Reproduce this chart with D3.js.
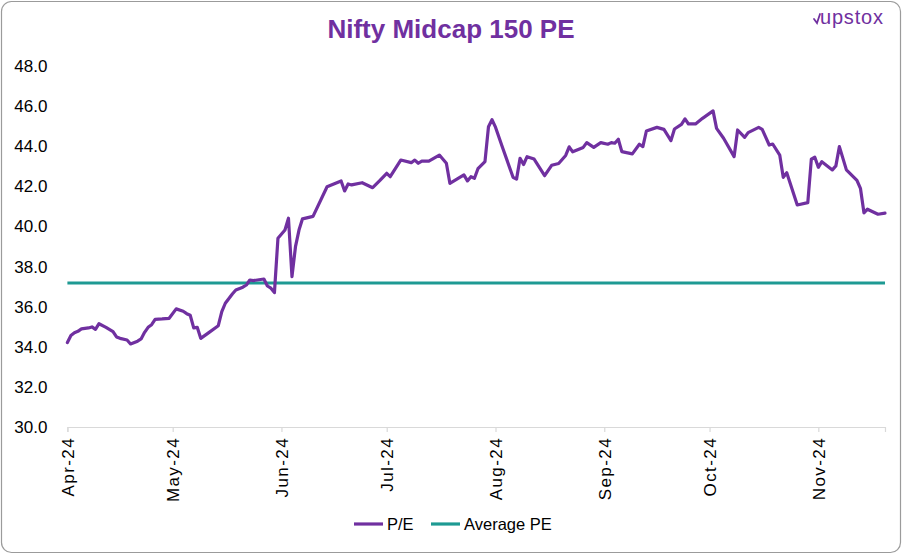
<!DOCTYPE html>
<html>
<head>
<meta charset="utf-8">
<script src="https://cdn.jsdelivr.net/npm/d3@7/dist/d3.min.js"></script>
<style>
  html, body { margin: 0; padding: 0; background: #fff; }
  svg { display: block; font-family: "Liberation Sans", Arial, sans-serif; }
</style>
</head>
<body>
<svg id="chart" width="903" height="555"></svg>
<script>
// ---------------- DATA ----------------
const chartTitle = "Nifty Midcap 150 PE";
const seriesNames = ["P/E", "Average PE"];
const dates = [
  "2024-04-01","2024-04-02","2024-04-03","2024-04-04","2024-04-05","2024-04-07","2024-04-08","2024-04-09","2024-04-10","2024-04-12",
  "2024-04-14","2024-04-15","2024-04-16","2024-04-18","2024-04-19","2024-04-21","2024-04-22","2024-04-23","2024-04-24","2024-04-25",
  "2024-04-26","2024-04-28","2024-04-30","2024-05-02","2024-05-04","2024-05-05","2024-05-06","2024-05-07","2024-05-08","2024-05-09",
  "2024-05-11","2024-05-14","2024-05-15","2024-05-16","2024-05-18","2024-05-19","2024-05-21","2024-05-22","2024-05-23","2024-05-24",
  "2024-05-27","2024-05-28","2024-05-29","2024-05-30","2024-05-31","2024-06-02","2024-06-03","2024-06-04","2024-06-05","2024-06-06",
  "2024-06-07","2024-06-10","2024-06-14","2024-06-18","2024-06-19","2024-06-20","2024-06-21","2024-06-24","2024-06-27","2024-06-29",
  "2024-07-01","2024-07-02","2024-07-05","2024-07-08","2024-07-09","2024-07-10","2024-07-11","2024-07-13","2024-07-16","2024-07-18",
  "2024-07-19","2024-07-23","2024-07-24","2024-07-25","2024-07-26","2024-07-27","2024-07-29","2024-07-30","2024-07-31","2024-08-01",
  "2024-08-03","2024-08-06","2024-08-07","2024-08-08","2024-08-09","2024-08-10","2024-08-12","2024-08-15","2024-08-17","2024-08-19",
  "2024-08-21","2024-08-22","2024-08-23","2024-08-26","2024-08-27","2024-08-29","2024-08-31","2024-09-02","2024-09-03","2024-09-04",
  "2024-09-05","2024-09-06","2024-09-09","2024-09-11","2024-09-12","2024-09-13","2024-09-16","2024-09-18","2024-09-20","2024-09-21",
  "2024-09-23","2024-09-24","2024-09-25","2024-09-27","2024-09-29","2024-10-02","2024-10-03","2024-10-05","2024-10-08","2024-10-09",
  "2024-10-11","2024-10-12","2024-10-15","2024-10-16","2024-10-18","2024-10-19","2024-10-21","2024-10-22","2024-10-23","2024-10-26",
  "2024-10-29","2024-10-30","2024-10-31","2024-11-01","2024-11-02","2024-11-05","2024-11-06","2024-11-07","2024-11-09","2024-11-12",
  "2024-11-13","2024-11-14","2024-11-15","2024-11-18","2024-11-20"
];
const peValues = [
  34.21,34.56,34.70,34.77,34.89,34.94,34.99,34.87,35.15,34.97,
  34.76,34.49,34.42,34.34,34.14,34.28,34.39,34.72,34.97,35.10,
  35.37,35.39,35.42,35.89,35.77,35.65,35.57,34.94,34.97,34.42,
  34.67,35.05,35.75,36.17,36.63,36.83,36.97,37.08,37.33,37.30,
  37.38,37.03,36.92,36.70,39.41,39.82,40.41,37.50,38.99,39.82,
  40.38,40.50,41.98,42.27,41.77,42.12,42.07,42.18,41.93,42.28,
  42.65,42.48,43.31,43.18,43.31,43.15,43.26,43.26,43.56,43.15,
  42.15,42.57,42.27,42.48,42.40,42.88,43.23,44.97,45.32,44.95,
  43.94,42.45,42.36,43.40,43.09,43.48,43.36,42.53,43.05,43.14,
  43.54,43.97,43.72,43.94,44.18,43.94,44.18,44.10,44.18,44.15,
  44.35,43.73,43.62,44.10,43.98,44.76,44.94,44.84,44.28,44.86,
  45.09,45.36,45.11,45.11,45.39,45.76,44.89,44.40,43.48,44.81,
  44.44,44.68,44.94,44.84,44.06,44.11,43.56,42.45,42.68,41.07,
  41.19,43.35,43.45,42.95,43.23,42.82,43.02,43.98,42.82,42.30,
  41.90,40.68,40.86,40.61,40.66
];
const averagePE = 37.18;
const yTickValues = [30, 32, 34, 36, 38, 40, 42, 44, 46, 48];
const monthTicks = ["2024-04-01","2024-05-01","2024-06-01","2024-07-01","2024-08-01","2024-09-01","2024-10-01","2024-11-01"];
const xDomain = ["2024-04-01", "2024-11-20"];

// ---------------- DRAW ----------------
const purple = "#7030A0";
const teal = "#1E9A93";
const parse = d3.utcParse("%Y-%m-%d");
const svg = d3.select("#chart");

// outer border
svg.append("rect")
  .attr("x", 1.5).attr("y", 1.5).attr("width", 899).attr("height", 551)
  .attr("rx", 10).attr("ry", 10)
  .attr("fill", "#fff").attr("stroke", "#9b9b9b").attr("stroke-width", 1.2);

const x = d3.scaleUtc().domain(xDomain.map(parse)).range([67.4, 885]);
const y = d3.scaleLinear().domain([30, 48]).range([427, 66]);

// title
svg.append("text")
  .attr("x", 451).attr("y", 38)
  .attr("text-anchor", "middle")
  .attr("font-size", 26).attr("font-weight", "bold")
  .attr("fill", purple)
  .text(chartTitle);

// logo
const logo = svg.append("g").attr("transform", "translate(820,24)");
logo.append("path")
  .attr("d", "M-6,-5 L-3,-1 L0,-10")
  .attr("fill", "none").attr("stroke", purple).attr("stroke-width", 1.8).attr("stroke-linecap", "round");
logo.append("text")
  .attr("x", 0).attr("y", 0)
  .attr("font-size", 20).attr("letter-spacing", 0.8).attr("fill", purple)
  .text("upstox");

// y axis labels
const yAxis = d3.axisLeft(y).tickValues(yTickValues).tickSize(0).tickPadding(20).tickFormat(d3.format(".1f"));
const yg = svg.append("g").attr("transform", "translate(67.4,0)").call(yAxis);
yg.select(".domain").remove();
yg.selectAll("text").attr("font-size", 17).attr("fill", "#000").attr("font-family", "Liberation Sans, Arial, sans-serif");

// x axis
const xAxis = d3.axisBottom(x).tickValues(monthTicks.map(parse)).tickSize(5).tickFormat(d3.utcFormat("%b-%y"));
const xg = svg.append("g").attr("transform", "translate(0,427)").call(xAxis);
xg.select(".domain").attr("stroke", "#d9d9d9").attr("stroke-width", 1.2);
xg.selectAll(".tick line").attr("stroke", "#d9d9d9").attr("stroke-width", 1.2);
xg.selectAll("text")
  .attr("font-size", 17).attr("letter-spacing", 1.4).attr("fill", "#000").attr("font-family", "Liberation Sans, Arial, sans-serif")
  .attr("transform", "rotate(-90)")
  .attr("x", -10).attr("y", 0).attr("dy", "0.35em")
  .attr("text-anchor", "end");

// average line
svg.append("line")
  .attr("x1", x(parse(xDomain[0]))).attr("x2", x(parse(xDomain[1])))
  .attr("y1", y(averagePE)).attr("y2", y(averagePE))
  .attr("stroke", teal).attr("stroke-width", 3.2);

// P/E line
const data = dates.map((d, i) => ({ date: parse(d), value: peValues[i] }));
svg.append("path")
  .datum(data)
  .attr("fill", "none")
  .attr("stroke", purple)
  .attr("stroke-width", 3.2)
  .attr("stroke-linejoin", "round")
  .attr("stroke-linecap", "round")
  .attr("d", d3.line().x(d => x(d.date)).y(d => y(d.value)));

// legend
const legend = svg.append("g");
const legendItems = [
  { name: seriesNames[0], color: purple, x0: 354 },
  { name: seriesNames[1], color: teal, x0: 431 }
];
legendItems.forEach(it => {
  legend.append("line")
    .attr("x1", it.x0).attr("x2", it.x0 + 29).attr("y1", 524).attr("y2", 524)
    .attr("stroke", it.color).attr("stroke-width", 3.2);
  legend.append("text")
    .attr("x", it.x0 + 33).attr("y", 524).attr("dy", "0.35em")
    .attr("font-size", 16.5).attr("fill", "#000")
    .text(it.name);
});
</script>
</body>
</html>
